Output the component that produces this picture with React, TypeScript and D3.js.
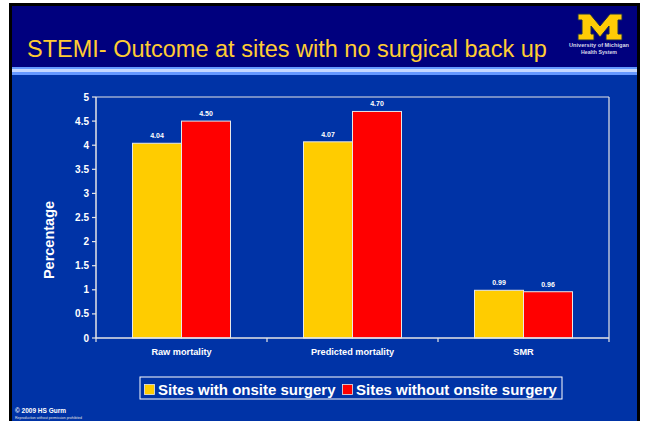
import React from "react";
import * as d3 from "d3";

const categories = ["Raw mortality", "Predicted mortality", "SMR"];
const seriesNames = ["Sites with onsite surgery", "Sites without onsite surgery"];
const onsiteValues = [4.04, 4.07, 0.99];
const withoutValues = [4.5, 4.7, 0.96];
const valueLabels = [["4.04", "4.07", "0.99"], ["4.50", "4.70", "0.96"]];
const yTicks = [0, 0.5, 1, 1.5, 2, 2.5, 3, 3.5, 4, 4.5, 5];
const seriesColors = ["#FFCC00", "#FF0000"];

const W = 645;
const H = 421;
const plot = { left: 96, right: 609, top: 97, bottom: 338 };

// block "M" logo outline in a 44x26 unit box
const logoM: [number, number][] = [
  [0, 0], [12, 0], [22, 12], [32, 0], [44, 0], [44, 6], [40, 6], [40, 20], [44, 20], [44, 26],
  [28, 26], [28, 20], [31, 20], [31, 12], [22, 23], [13, 12], [13, 20], [16, 20], [16, 26],
  [0, 26], [0, 20], [4, 20], [4, 6], [0, 6],
];

export default function App() {
  const y = d3.scaleLinear().domain([0, 5]).range([plot.bottom, plot.top]);
  const x0 = d3.scaleBand<string>().domain(categories).range([plot.left, plot.right]).padding(0);
  const x1 = d3
    .scaleBand<string>()
    .domain(seriesNames)
    .range([0, x0.bandwidth()])
    .paddingInner(0)
    .paddingOuter(0.745);
  const series = [onsiteValues, withoutValues];
  const font = "Arial, 'Liberation Sans', Helvetica, sans-serif";
  const catEdges = [...categories.map((c) => x0(c)!), plot.right];
  const logoPath = (d3.line()(logoM) || "") + "Z";

  return (
    <svg
      width={W}
      height={H}
      style={{ position: "absolute", left: 0, top: 0, display: "block" }}
      fontFamily={font}
    >
      <rect x={0} y={0} width={W} height={H} fill="#ffffff" />
      {/* black frame */}
      <rect x={9} y={3} width={631} height={H} fill="#000000" />
      {/* title bar */}
      <rect x={12} y={6} width={625} height={61} fill="#00007E" />
      {/* stripes */}
      <rect x={12} y={67} width={625} height={8} fill="#6699FF" />
      <rect x={12} y={69} width={625} height={3} fill="#C6D8FF" />
      {/* body */}
      <rect x={12} y={75} width={625} height={H - 75} fill="#0033A6" />

      {/* title */}
      <text x={27} y={57} fill="#FFCC33" fontSize={23.5}>
        STEMI- Outcome at sites with no surgical back up
      </text>

      {/* logo */}
      <path d={logoPath} transform="translate(578,14)" fill="#FFCB05" stroke="#1a2a50" strokeWidth={1} />
      <text x={599} y={47} textAnchor="middle" fontSize={4.6} fontWeight="bold" fill="#d8d8e8" textLength={60} lengthAdjust="spacingAndGlyphs">
        University of Michigan
      </text>
      <text x={599} y={54} textAnchor="middle" fontSize={4.6} fontWeight="bold" fill="#d8d8e8" textLength={36} lengthAdjust="spacingAndGlyphs">
        Health System
      </text>

      {/* plot border top & right */}
      <line x1={plot.left} x2={plot.right} y1={plot.top} y2={plot.top} stroke="#E6E6E6" strokeWidth={1.2} />
      <line x1={plot.right} x2={plot.right} y1={plot.top} y2={plot.bottom} stroke="#E6E6E6" strokeWidth={1.2} />

      {/* bars */}
      {series.map((vals, si) =>
        vals.map((v, ci) => {
          const bx = x0(categories[ci])! + x1(seriesNames[si])!;
          const bw = x1.bandwidth();
          return (
            <g key={`${si}-${ci}`}>
              <rect
                x={bx}
                y={y(v)}
                width={bw}
                height={plot.bottom - y(v)}
                fill={seriesColors[si]}
                stroke="#E8E8E8"
                strokeWidth={1}
              />
              <text
                x={bx + bw / 2}
                y={y(v) - 5}
                textAnchor="middle"
                fontSize={7}
                fontWeight="bold"
                fill="#FFFFFF"
              >
                {valueLabels[si][ci]}
              </text>
            </g>
          );
        })
      )}

      {/* y axis */}
      <line x1={plot.left} x2={plot.left} y1={plot.top} y2={plot.bottom} stroke="#E6E6E6" strokeWidth={1.5} />
      {yTicks.map((t) => (
        <g key={t}>
          <line x1={plot.left - 4} x2={plot.left} y1={y(t)} y2={y(t)} stroke="#E6E6E6" strokeWidth={1.2} />
          <text x={plot.left - 7} y={y(t) + 3.5} textAnchor="end" fontSize={10} fontWeight="bold" fill="#FFFFFF">
            {t}
          </text>
        </g>
      ))}

      {/* x axis */}
      <line x1={plot.left} x2={plot.right} y1={plot.bottom} y2={plot.bottom} stroke="#E6E6E6" strokeWidth={1.5} />
      {catEdges.map((e, i) => (
        <line key={i} x1={e} x2={e} y1={plot.bottom} y2={plot.bottom + 4} stroke="#E6E6E6" strokeWidth={1.2} />
      ))}
      {categories.map((c) => (
        <text
          key={c}
          x={x0(c)! + x0.bandwidth() / 2}
          y={355}
          textAnchor="middle"
          fontSize={9.2}
          fontWeight="bold"
          fill="#FFFFFF"
        >
          {c}
        </text>
      ))}

      {/* y axis title */}
      <text
        transform="translate(54, 240) rotate(-90)"
        textAnchor="middle"
        fontSize={14.5}
        fontWeight="bold"
        fill="#FFFFFF"
      >
        Percentage
      </text>

      {/* legend */}
      <rect x={140} y={377} width={422} height={22} fill="none" stroke="#FFFFFF" strokeWidth={1} />
      <rect x={144.5} y={384.5} width={10} height={10} fill={seriesColors[0]} stroke="#E8E8E8" strokeWidth={0.8} />
      <text x={158} y={394.5} fontSize={15} fontWeight="bold" fill="#FFFFFF">
        {seriesNames[0]}
      </text>
      <rect x={342.5} y={384.5} width={10} height={10} fill={seriesColors[1]} stroke="#E8E8E8" strokeWidth={0.8} />
      <text x={356} y={394.5} fontSize={15} fontWeight="bold" fill="#FFFFFF">
        {seriesNames[1]}
      </text>

      {/* footer */}
      <text x={15} y={413} fontSize={6.5} fontWeight="bold" fill="#FFFFFF">
        © 2009 HS Gurm
      </text>
      <text x={15} y={419} fontSize={3} fill="#E0E0E0" textLength={67} lengthAdjust="spacingAndGlyphs">
        Reproduction without permission prohibited
      </text>
    </svg>
  );
}
